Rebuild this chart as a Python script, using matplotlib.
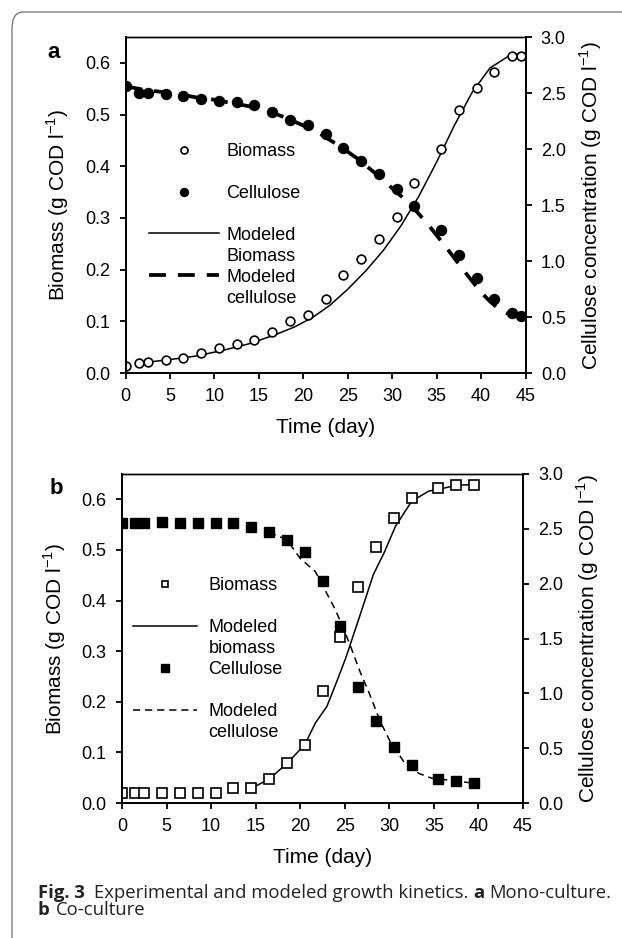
import matplotlib.pyplot as plt
from matplotlib.lines import Line2D
from matplotlib.patches import FancyBboxPatch
from matplotlib.ticker import FormatStrFormatter

plt.rcParams['font.family'] = ['Liberation Sans', 'DejaVu Sans']
plt.rcParams['mathtext.fontset'] = 'custom'
plt.rcParams['mathtext.rm'] = 'Liberation Sans'

# --- panel a: mono-culture ---
days_a = [0, 1.5, 2.5, 4.5, 6.5, 8.5, 10.5, 12.5, 14.5, 16.5, 18.5, 20.5,
          22.5, 24.5, 26.5, 28.5, 30.5, 32.5, 35.5, 37.5, 39.5, 41.5, 43.5, 44.5]
biomass_a = [0.014, 0.019, 0.022, 0.026, 0.029, 0.038, 0.048, 0.057, 0.064, 0.080,
             0.100, 0.112, 0.143, 0.189, 0.220, 0.259, 0.302, 0.368, 0.434, 0.509,
             0.551, 0.583, 0.613, 0.613]
cellulose_a = [2.56, 2.50, 2.50, 2.49, 2.47, 2.45, 2.43, 2.42, 2.39, 2.33, 2.26, 2.21,
               2.13, 2.01, 1.89, 1.78, 1.64, 1.49, 1.28, 1.05, 0.85, 0.66, 0.54, 0.51]

mod_bm_days_a = [2, 5, 8, 11, 14, 17, 19, 21, 23, 25, 27, 29, 31, 33, 35, 37, 39, 41, 43, 45]
mod_bm_a = [0.020, 0.026, 0.033, 0.044, 0.057, 0.075, 0.089, 0.107, 0.131, 0.162,
            0.197, 0.237, 0.285, 0.342, 0.408, 0.479, 0.543, 0.590, 0.612, 0.620]
mod_cel_days_a = [0, 2, 4, 6, 8, 10, 12, 14, 16, 18, 20, 22, 24, 26, 28, 30, 32,
                  34, 36, 38, 40, 41, 42, 43, 44]
mod_cel_a = [2.56, 2.53, 2.51, 2.49, 2.46, 2.44, 2.41, 2.38, 2.34, 2.28, 2.21, 2.13,
             2.03, 1.92, 1.79, 1.65, 1.51, 1.33, 1.13, 0.92, 0.72, 0.64, 0.57, 0.53, 0.51]

# --- panel b: co-culture ---
days_b = [0, 1.5, 2.5, 4.5, 6.5, 8.5, 10.5, 12.5, 14.5, 16.5, 18.5, 20.5,
          22.5, 24.5, 26.5, 28.5, 30.5, 32.5, 35.5, 37.5, 39.5]
biomass_b = [0.019, 0.019, 0.019, 0.019, 0.019, 0.019, 0.019, 0.029, 0.029, 0.047,
             0.079, 0.115, 0.222, 0.327, 0.426, 0.506, 0.564, 0.603, 0.622, 0.629, 0.629]
cellulose_b = [2.55, 2.55, 2.55, 2.56, 2.55, 2.55, 2.55, 2.55, 2.52, 2.47, 2.40,
               2.29, 2.02, 1.61, 1.06, 0.75, 0.51, 0.35, 0.22, 0.20, 0.18]

mod_bm_days_b = [14.5, 16.5, 18.5, 20.5, 21.7, 23.0, 24.1, 25.1, 26.6, 28.2, 29.4,
                 30.7, 32.5, 34.4, 35.9, 37.5, 39.5]
mod_bm_b = [0.029, 0.047, 0.078, 0.115, 0.158, 0.191, 0.240, 0.286, 0.365, 0.451,
            0.494, 0.547, 0.596, 0.616, 0.621, 0.628, 0.629]
mod_cel_days_b = [16.5, 18.5, 20.0, 21.7, 22.6, 23.9, 24.7, 25.6, 26.7, 27.7, 29.0,
                  30.1, 31.6, 33.3, 34.8, 35.5, 37.5, 39.5]
mod_cel_b = [2.47, 2.40, 2.23, 2.11, 1.97, 1.77, 1.62, 1.44, 1.20, 1.01, 0.74,
             0.56, 0.38, 0.27, 0.225, 0.22, 0.20, 0.18]

x_ticks = list(range(0, 46, 5))
bm_ticks = [0.0, 0.1, 0.2, 0.3, 0.4, 0.5, 0.6]
cel_ticks = [0.0, 0.5, 1.0, 1.5, 2.0, 2.5, 3.0]

W, H = 622, 938
fig = plt.figure(figsize=(W / 100, H / 100), dpi=100)

# rounded frame of the journal figure box
frame = FancyBboxPatch((12 / W, -0.05), 1.2, 1.05 - 12 / H,
                       boxstyle='round,pad=0,rounding_size=0.018',
                       transform=fig.transFigure, fill=False,
                       edgecolor='#707070', linewidth=0.9)
fig.patches.append(frame)


def make_axes(x0, y0, x1, y1):
    ax = fig.add_axes([x0 / W, 1 - y1 / H, (x1 - x0) / W, (y1 - y0) / H])
    ax2 = ax.twinx()
    ax.set_xlim(0, 45)
    ax.set_ylim(0, 0.65)
    ax2.set_ylim(0, 3.0)
    ax.set_xticks(x_ticks)
    ax.set_yticks(bm_ticks)
    ax2.set_yticks(cel_ticks)
    ax.yaxis.set_major_formatter(FormatStrFormatter('%.1f'))
    ax2.yaxis.set_major_formatter(FormatStrFormatter('%.1f'))
    for a in (ax, ax2):
        a.tick_params(direction='out', length=4, width=1.3, labelsize=13, pad=7)
        for s in a.spines.values():
            s.set_linewidth(1.4)
        a.spines['top'].set_linewidth(1.0)
    ax.set_xlabel('Time (day)', fontsize=15, labelpad=9)
    ax.set_ylabel(r'Biomass (g COD l$^{\mathregular{-1}}$)', fontsize=15, labelpad=10)
    ax2.set_ylabel(r'Cellulose concentration (g COD l$^{\mathregular{-1}}$)',
                   fontsize=15, labelpad=8)
    return ax, ax2


blank = Line2D([], [], linestyle='none')

# ---- panel a ----
ax, ax2 = make_axes(125.5, 37, 525.5, 373)
l_bm, = ax.plot(mod_bm_days_a, mod_bm_a, color='black', lw=1.1, zorder=2)
p_bm, = ax.plot(days_a, biomass_a, linestyle='none', marker='o', ms=6.3,
                mfc='white', mec='black', mew=1.2, zorder=3)
l_cel, = ax2.plot(mod_cel_days_a, mod_cel_a, color='black', lw=2.7,
                  dashes=(4.5, 3.2), zorder=2)
p_cel, = ax2.plot(days_a, cellulose_a, linestyle='none', marker='o', ms=7.2,
                  mfc='black', mec='black', zorder=3)
ax2.legend([p_bm, blank, p_cel, blank, l_bm, blank, l_cel, blank],
           ['Biomass', ' ', 'Cellulose', ' ', 'Modeled', 'Biomass', 'Modeled', 'cellulose'],
           loc='center left', bbox_to_anchor=(0.059, 0.441), frameon=False,
           borderpad=0, borderaxespad=0, handlelength=3.88, handletextpad=0.39,
           labelspacing=0.22, markerscale=0.8, fontsize=13, numpoints=1)
ax.text(-0.18, 0.955, 'a', transform=ax.transAxes, fontsize=16, fontweight='bold',
        ha='center', va='center')

# ---- panel b ----
bx, bx2 = make_axes(122, 474, 523, 803)
m_bm, = bx.plot(mod_bm_days_b, mod_bm_b, color='black', lw=1.1, zorder=2)
q_bm, = bx.plot(days_b, biomass_b, linestyle='none', marker='s', ms=6.6,
                mfc='white', mec='black', mew=1.2, zorder=3)
m_cel, = bx2.plot(mod_cel_days_b, mod_cel_b, color='black', lw=1.1,
                  dashes=(4.7, 3.2), zorder=2)
q_cel, = bx2.plot(days_b, cellulose_b, linestyle='none', marker='s', ms=7.2,
                  mfc='black', mec='black', zorder=3)
bx2.legend([q_bm, blank, m_bm, blank, q_cel, blank, m_cel, blank],
           ['Biomass', ' ', 'Modeled', 'biomass', 'Cellulose', ' ', 'Modeled', 'cellulose'],
           loc='center left', bbox_to_anchor=(0.0274, 0.438), frameon=False,
           borderpad=0, borderaxespad=0, handlelength=3.54, handletextpad=0.64,
           labelspacing=0.22, markerscale=0.75, fontsize=13, numpoints=1)
bx.text(-0.165, 0.955, 'b', transform=bx.transAxes, fontsize=16, fontweight='bold',
        ha='center', va='center')

# ---- caption (size fitted so the first line spans the frame width) ----
cap_family = ['Open Sans', 'DejaVu Sans']
renderer = fig.canvas.get_renderer()
probe = fig.text(0, 0, 'Fig. 3   Experimental and modeled growth kinetics. a Mono-culture.',
                 fontsize=10, family=cap_family)
size = 10 * 574 / probe.get_window_extent(renderer).width
probe.remove()
cap = dict(fontsize=size, family=cap_family, color='#222222')

t1 = fig.text(37.6 / W, 1 - 898 / H, 'Fig. 3', fontweight='bold', va='baseline', **cap)
r1 = plt.annotate('Experimental and modeled growth kinetics.', xy=(1, 0),
                  xycoords=t1, xytext=(7, 0), textcoords='offset points',
                  va='bottom', annotation_clip=False, **cap)
r2 = plt.annotate('a', xy=(1, 0), xycoords=r1, xytext=(3.5, 0), textcoords='offset points',
                  va='bottom', fontweight='bold', annotation_clip=False, **cap)
plt.annotate('Mono-culture.', xy=(1, 0), xycoords=r2, xytext=(3.5, 0),
             textcoords='offset points', va='bottom', annotation_clip=False, **cap)
t3 = fig.text(37.6 / W, 1 - 915 / H, 'b', fontweight='bold', va='baseline', **cap)
plt.annotate('Co-culture', xy=(1, 0), xycoords=t3, xytext=(4.5, 0),
             textcoords='offset points', va='bottom', annotation_clip=False, **cap)

fig.savefig('out.png', dpi=100)
